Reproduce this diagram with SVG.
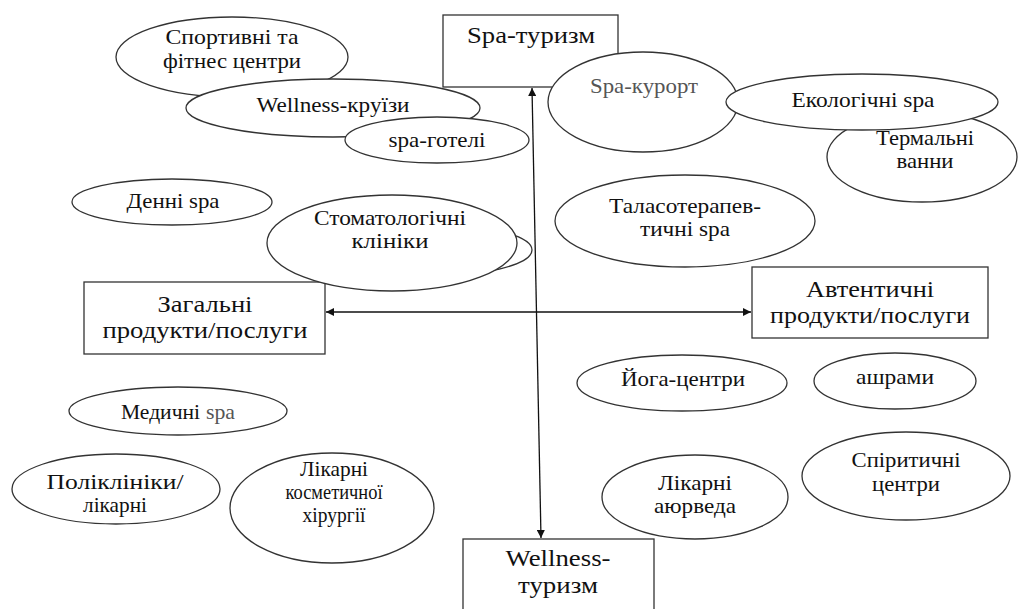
<svg xmlns="http://www.w3.org/2000/svg" width="1020" height="609" viewBox="0 0 1020 609">
<defs>
<style>
.n{fill:#fff;stroke:#333;stroke-width:1.3}
.t{font-family:'Liberation Serif','Times New Roman',serif;font-size:21px;fill:#111;text-anchor:middle}
.s{text-anchor:start}
.b{font-size:24px}
.g{fill:#555}
.c{stroke:#111;stroke-width:1.3;fill:none}
</style>
<marker id="ah" viewBox="0 0 10 10" refX="10" refY="5" markerWidth="10" markerHeight="8" markerUnits="userSpaceOnUse" orient="auto-start-reverse">
<path d="M0,0 L10,5 L0,10 z" fill="#111"/>
</marker>
</defs>
<rect width="1020" height="609" fill="#fff"/>
<g id="spa-tourism">
<rect class="n" x="443" y="15" width="175" height="72"/>
<text class="t b" x="531" y="43" textLength="128" lengthAdjust="spacingAndGlyphs">Spa-туризм</text>
</g>
<g id="general">
<rect class="n" x="84" y="282" width="241" height="72"/>
<text class="t b" x="205" y="312" textLength="95" lengthAdjust="spacingAndGlyphs">Загальні</text>
<text class="t b" x="205" y="338" textLength="205" lengthAdjust="spacingAndGlyphs">продукти/послуги</text>
</g>
<g id="authentic">
<rect class="n" x="752" y="267" width="236" height="71"/>
<text class="t b" x="870" y="297" textLength="128" lengthAdjust="spacingAndGlyphs">Автентичні</text>
<text class="t b" x="870" y="323" textLength="200" lengthAdjust="spacingAndGlyphs">продукти/послуги</text>
</g>
<g id="wellness-tourism">
<rect class="n" x="463" y="539" width="191" height="80"/>
<text class="t b" x="558" y="566" textLength="105" lengthAdjust="spacingAndGlyphs">Wellness-</text>
<text class="t b" x="558" y="593" textLength="80" lengthAdjust="spacingAndGlyphs">туризм</text>
</g>

<g id="sport">
<ellipse class="n" cx="232" cy="57" rx="116" ry="40"/>
<text class="t" x="232" y="44" textLength="133" lengthAdjust="spacingAndGlyphs">Спортивні та</text>
<text class="t" x="232" y="68" textLength="138" lengthAdjust="spacingAndGlyphs">фітнес центри</text>
</g>
<g id="cruise">
<ellipse class="n" cx="333" cy="108" rx="147" ry="29"/>
<text class="t" x="333" y="112" textLength="153" lengthAdjust="spacingAndGlyphs">Wellness-круїзи</text>
</g>
<g id="spa-hotels">
<ellipse class="n" cx="437" cy="140" rx="92" ry="23"/>
<text class="t" x="437" y="147" textLength="97" lengthAdjust="spacingAndGlyphs">spa-готелі</text>
</g>
<g id="spa-resort">
<ellipse class="n" cx="643" cy="102" rx="95" ry="50"/>
<text class="t g" x="644" y="93" textLength="108" lengthAdjust="spacingAndGlyphs">Spa-курорт</text>
</g>
<g id="thermal">
<ellipse class="n" cx="922" cy="157" rx="95" ry="45"/>
<text class="t" x="925" y="145" textLength="98" lengthAdjust="spacingAndGlyphs">Термальні</text>
<text class="t" x="925" y="168" textLength="57" lengthAdjust="spacingAndGlyphs">ванни</text>
</g>
<g id="eco">
<ellipse class="n" cx="862" cy="102" rx="136" ry="28"/>
<text class="t" x="863" y="107" textLength="143" lengthAdjust="spacingAndGlyphs">Екологічні spa</text>
</g>
<g id="thalasso">
<ellipse class="n" cx="685" cy="221" rx="130" ry="46"/>
<text class="t" x="685" y="213" textLength="152" lengthAdjust="spacingAndGlyphs">Таласотерапев-</text>
<text class="t" x="685" y="236" textLength="90" lengthAdjust="spacingAndGlyphs">тичні spa</text>
</g>
<g id="day-spa">
<ellipse class="n" cx="172" cy="202" rx="100" ry="23"/>
<text class="t" x="173" y="208" textLength="93" lengthAdjust="spacingAndGlyphs">Денні spa</text>
</g>
<g id="dental">
<ellipse class="n" cx="420" cy="250" rx="112" ry="27"/>
<ellipse class="n" cx="392" cy="243" rx="125" ry="48"/>
<text class="t" x="390" y="225" textLength="152" lengthAdjust="spacingAndGlyphs">Стоматологічні</text>
<text class="t" x="390" y="248" textLength="77" lengthAdjust="spacingAndGlyphs">клініки</text>
</g>
<g id="medical-spa">
<ellipse class="n" cx="178" cy="411" rx="109" ry="24"/>
<text class="t s" x="121" y="419" textLength="79" lengthAdjust="spacingAndGlyphs">Медичні</text>
<text class="t s g" x="206" y="419" textLength="29" lengthAdjust="spacingAndGlyphs">spa</text>
</g>
<g id="clinics">
<ellipse class="n" cx="116" cy="489" rx="104" ry="35"/>
<text class="t" x="115" y="489" textLength="137" lengthAdjust="spacingAndGlyphs">Поліклініки/</text>
<text class="t" x="115" y="512" textLength="64" lengthAdjust="spacingAndGlyphs">лікарні</text>
</g>
<g id="cosmetic">
<ellipse class="n" cx="332" cy="508" rx="102" ry="55"/>
<text class="t" x="334" y="476" textLength="68" lengthAdjust="spacingAndGlyphs">Лікарні</text>
<text class="t" x="334" y="499" textLength="97" lengthAdjust="spacingAndGlyphs">косметичної</text>
<text class="t" x="334" y="522" textLength="63" lengthAdjust="spacingAndGlyphs">хірургії</text>
</g>
<g id="yoga">
<ellipse class="n" cx="682" cy="383" rx="105" ry="28"/>
<text class="t" x="683" y="386" textLength="124" lengthAdjust="spacingAndGlyphs">Йога-центри</text>
</g>
<g id="ashram">
<ellipse class="n" cx="895" cy="381" rx="81" ry="28"/>
<text class="t" x="895" y="384" textLength="78" lengthAdjust="spacingAndGlyphs">ашрами</text>
</g>
<g id="ayurveda">
<ellipse class="n" cx="695" cy="497" rx="93" ry="42"/>
<text class="t" x="695" y="490" textLength="74" lengthAdjust="spacingAndGlyphs">Лікарні</text>
<text class="t" x="695" y="513" textLength="82" lengthAdjust="spacingAndGlyphs">аюрведа</text>
</g>
<g id="spiritual">
<ellipse class="n" cx="906" cy="476" rx="104" ry="44"/>
<text class="t" x="906" y="467" textLength="109" lengthAdjust="spacingAndGlyphs">Спіритичні</text>
<text class="t" x="906" y="491" textLength="68" lengthAdjust="spacingAndGlyphs">центри</text>
</g>
<g id="connectors">
<line class="c" x1="532" y1="88" x2="541" y2="538" marker-start="url(#ah)" marker-end="url(#ah)"/>
<line class="c" x1="326" y1="312" x2="751" y2="312" marker-start="url(#ah)" marker-end="url(#ah)"/>
</g>
</svg>
